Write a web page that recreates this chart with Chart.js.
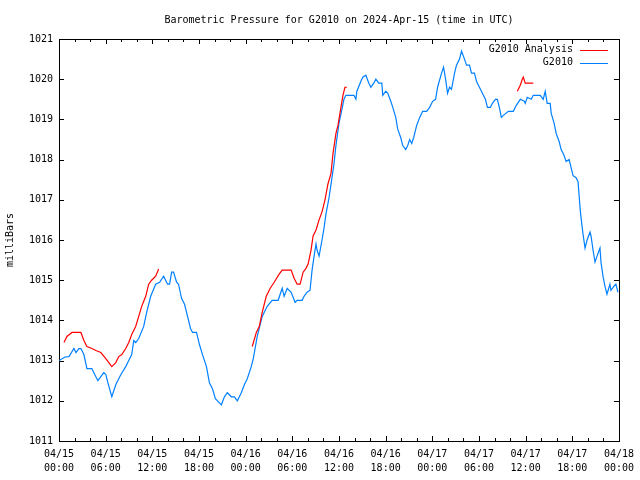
<html>
<head>
<meta charset="utf-8">
<script src="https://cdn.jsdelivr.net/npm/chart.js@4.4.1/dist/chart.umd.min.js"></script>
</head>
<body style="margin:0;background-color:#ffffff;">
<canvas id="myChart" width="640" height="480"></canvas>
<script>
// hours since 2024-04-15 00:00 UTC
var stationHours = [0,0.77,1.28,1.92,2.18,2.56,2.82,3.20,3.59,4.23,4.48,5.00,5.38,5.76,6.02,6.28,6.79,7.30,7.94,8.58,8.97,9.35,9.61,9.86,10.25,10.89,11.27,11.79,12.43,12.94,13.45,13.96,14.22,14.48,14.73,15.12,15.37,15.76,16.14,16.53,16.91,17.17,17.68,18.06,18.45,18.96,19.34,19.73,20.11,20.63,20.88,21.27,21.65,22.16,22.55,22.93,23.44,23.83,24.21,24.72,24.98,25.49,26.13,26.77,27.41,28.18,28.70,28.95,29.34,29.85,30.36,30.62,31.26,31.51,31.90,32.28,32.54,32.80,33.05,33.18,33.44,33.82,34.08,34.33,34.72,35.10,35.36,35.61,36.00,36.38,36.64,36.89,37.28,37.92,38.18,38.30,38.82,39.07,39.46,39.84,40.10,40.48,40.74,41.12,41.51,41.63,42.02,42.28,42.66,42.92,43.30,43.56,43.94,44.20,44.58,44.84,45.09,45.35,45.61,45.99,46.38,46.76,47.27,47.66,48.04,48.42,48.68,49.19,49.45,49.71,49.96,50.22,50.47,50.86,51.11,51.50,51.76,52.14,52.40,52.78,53.04,53.42,53.68,54.06,54.32,54.57,54.83,55.09,55.47,55.73,56.11,56.37,56.62,56.88,57.14,57.78,58.42,58.80,59.31,59.83,59.95,60.21,60.72,60.98,61.36,61.88,62.26,62.52,62.77,63.16,63.29,63.67,63.93,64.31,64.57,64.95,65.21,65.59,65.85,66.10,66.49,66.74,67.00,67.13,67.38,67.64,67.90,68.28,68.41,68.67,68.92,69.18,69.56,69.69,69.95,70.20,70.46,70.84,70.97,71.36,71.61,71.87];
var stationPressure = [1013.0,1013.09,1013.1,1013.3,1013.2,1013.3,1013.3,1013.15,1012.8,1012.8,1012.7,1012.5,1012.6,1012.7,1012.65,1012.45,1012.1,1012.4,1012.65,1012.85,1013.0,1013.15,1013.5,1013.45,1013.55,1013.85,1014.2,1014.6,1014.9,1014.95,1015.1,1014.9,1014.9,1015.2,1015.2,1014.95,1014.9,1014.55,1014.4,1014.1,1013.8,1013.7,1013.7,1013.4,1013.15,1012.85,1012.45,1012.3,1012.05,1011.95,1011.9,1012.1,1012.2,1012.1,1012.1,1012.0,1012.2,1012.4,1012.55,1012.85,1013.05,1013.6,1014.1,1014.35,1014.5,1014.5,1014.8,1014.6,1014.8,1014.7,1014.45,1014.5,1014.5,1014.6,1014.7,1014.75,1015.25,1015.6,1015.9,1015.75,1015.6,1016.0,1016.3,1016.65,1017.05,1017.55,1017.9,1018.35,1018.9,1019.25,1019.5,1019.6,1019.6,1019.6,1019.5,1019.7,1019.95,1020.05,1020.1,1019.9,1019.8,1019.9,1020.0,1019.9,1019.9,1019.6,1019.7,1019.65,1019.45,1019.3,1019.05,1018.75,1018.55,1018.35,1018.25,1018.35,1018.5,1018.4,1018.55,1018.85,1019.05,1019.2,1019.2,1019.3,1019.45,1019.5,1019.8,1020.15,1020.3,1020.0,1019.65,1019.8,1019.75,1020.15,1020.35,1020.5,1020.7,1020.5,1020.35,1020.35,1020.15,1020.15,1019.95,1019.8,1019.7,1019.6,1019.5,1019.3,1019.3,1019.4,1019.5,1019.5,1019.3,1019.05,1019.1,1019.2,1019.2,1019.35,1019.5,1019.45,1019.4,1019.55,1019.5,1019.6,1019.6,1019.6,1019.5,1019.7,1019.4,1019.4,1019.15,1018.9,1018.65,1018.45,1018.25,1018.1,1017.95,1018.0,1017.8,1017.6,1017.55,1017.45,1016.8,1016.55,1016.15,1015.8,1016.0,1016.2,1016.1,1015.75,1015.45,1015.6,1015.8,1015.45,1015.1,1014.85,1014.65,1014.9,1014.75,1014.85,1014.9,1014.7];

// analysis runs, null = no analysis
var analysisHours = [0.64,1.02,1.67,2.31,2.82,3.20,3.59,4.23,4.74,5.38,6.02,6.41,6.79,7.30,7.69,8.07,8.58,8.97,9.35,9.86,10.25,10.63,11.15,11.53,11.91,12.43,12.81,
  18.0,
  24.85,25.37,25.75,26.13,26.65,27.16,27.67,28.31,28.70,29.21,29.85,30.23,30.62,31.00,31.39,31.77,32.03,32.41,32.67,33.05,33.44,33.82,34.20,34.59,34.97,35.23,35.61,35.87,36.25,36.51,36.77,37.02,
  48.0,
  58.93,59.31,59.57,59.70,59.95,60.47,60.98];
var analysisPressure = [1013.45,1013.6,1013.7,1013.7,1013.7,1013.5,1013.35,1013.3,1013.25,1013.2,1013.05,1012.95,1012.85,1012.95,1013.1,1013.15,1013.3,1013.45,1013.65,1013.85,1014.1,1014.35,1014.6,1014.9,1015.0,1015.1,1015.28,
  null,
  1013.35,1013.7,1013.85,1014.2,1014.6,1014.8,1014.95,1015.15,1015.25,1015.25,1015.25,1015.05,1014.9,1014.9,1015.2,1015.3,1015.4,1015.75,1016.1,1016.25,1016.5,1016.7,1017.0,1017.4,1017.65,1018.15,1018.65,1018.85,1019.3,1019.6,1019.8,1019.8,
  null,
  1019.7,1019.85,1020.0,1020.05,1019.9,1019.9,1019.9];

var tickDates = ['04/15','04/15','04/15','04/15','04/16','04/16','04/16','04/16','04/17','04/17','04/17','04/17','04/18'];
var tickTimes = ['00:00','06:00','12:00','18:00','00:00','06:00','12:00','18:00','00:00','06:00','12:00','18:00','00:00'];

var titleText = 'Barometric Pressure for G2010 on 2024-Apr-15 (time in UTC)';
var FONT = 'DejaVu Sans Mono';

function toPoints(xs, ys) {
    return xs.map(function(x, i){ return {x: x, y: ys[i]}; });
}

// gnuplot style box with inward ticks on all sides, title over the plot box
var frame = {
    id: 'frame',
    beforeDatasetsDraw: function(chart) {
        var ctx = chart.ctx, a = chart.chartArea;
        var xs = chart.scales.x, ys = chart.scales.y;
        ctx.save();
        ctx.strokeStyle = '#000';
        ctx.lineWidth = 1;
        ctx.beginPath();
        ys.ticks.forEach(function(t){
            var y = Math.round(ys.getPixelForValue(t.value)) + 0.5;
            ctx.moveTo(a.left, y); ctx.lineTo(a.left + 5, y);
            ctx.moveTo(a.right, y); ctx.lineTo(a.right - 5, y);
        });
        xs.ticks.forEach(function(t){
            var x = Math.round(xs.getPixelForValue(t.value)) + 0.5;
            var len = (t.value % 6 === 0) ? 5 : 3;
            ctx.moveTo(x, a.bottom); ctx.lineTo(x, a.bottom - len);
            ctx.moveTo(x, a.top); ctx.lineTo(x, a.top + len);
        });
        ctx.stroke();
        ctx.strokeRect(Math.round(a.left) + 0.5, Math.round(a.top) + 0.5, Math.round(a.right - a.left), Math.round(a.bottom - a.top));

        ctx.fillStyle = '#000';
        ctx.font = '10px "' + FONT + '"';
        ctx.textAlign = 'center';
        ctx.textBaseline = 'middle';
        ctx.fillText(titleText, (a.left + a.right) / 2, 20);
        ctx.restore();
    }
};

// legend inside the top right corner, text then line sample
var keyBox = {
    id: 'keyBox',
    afterDatasetsDraw: function(chart) {
        var ctx = chart.ctx, a = chart.chartArea;
        ctx.save();
        ctx.font = '10px "' + FONT + '"';
        ctx.textAlign = 'right';
        ctx.textBaseline = 'middle';
        chart.data.datasets.forEach(function(ds, i){
            var y = a.top + 10.5 + i * 13;
            ctx.fillStyle = '#000';
            ctx.fillText(ds.label, a.right - 46, y);
            ctx.strokeStyle = ds.borderColor;
            ctx.lineWidth = 1;
            ctx.beginPath();
            ctx.moveTo(a.right - 39, Math.round(y) + 0.5);
            ctx.lineTo(a.right - 11, Math.round(y) + 0.5);
            ctx.stroke();
        });
        ctx.restore();
    }
};

var ctx = document.getElementById('myChart').getContext('2d');
var chart = new Chart(ctx, {
    type: 'line',
    data: {
        datasets: [{
            label: 'G2010 Analysis',
            data: toPoints(analysisHours, analysisPressure),
            borderColor: '#ff0000',
            borderWidth: 1.2,
            pointRadius: 0,
            spanGaps: false,
            tension: 0
        }, {
            label: 'G2010',
            data: toPoints(stationHours, stationPressure),
            borderColor: '#0080ff',
            borderWidth: 1.2,
            pointRadius: 0,
            tension: 0
        }]
    },
    options: {
        responsive: false,
        animation: false,
        events: [],
        layout: { padding: { left: 0, right: 19, top: 39, bottom: 0 } },
        plugins: {
            legend: { display: false },
            tooltip: { enabled: false },
            title: { display: false }
        },
        scales: {
            x: {
                type: 'linear',
                min: 0,
                max: 72,
                grid: { display: false, drawTicks: false },
                border: { display: false },
                ticks: {
                    stepSize: 2,
                    autoSkip: false,
                    maxRotation: 0,
                    padding: 6,
                    color: '#000',
                    font: { family: FONT, size: 10, lineHeight: 1.4 },
                    callback: function(v) {
                        if (v % 6 !== 0) return '';
                        return [tickDates[v / 6], tickTimes[v / 6]];
                    }
                },
                afterFit: function(s) { s.height = 39; }
            },
            y: {
                min: 1011,
                max: 1021,
                grid: { display: false, drawTicks: false },
                border: { display: false },
                ticks: {
                    stepSize: 1,
                    padding: 6,
                    color: '#000',
                    font: { family: FONT, size: 10 },
                    callback: function(v) { return String(v); }
                },
                title: {
                    display: true,
                    text: 'milliBars',
                    color: '#000',
                    font: { family: FONT, size: 10, lineHeight: 1.2 },
                    padding: { top: 4, bottom: 0 }
                },
                afterFit: function(s) { s.width = 59; }
            }
        }
    },
    plugins: [frame, keyBox]
});
</script>
</body>
</html>
